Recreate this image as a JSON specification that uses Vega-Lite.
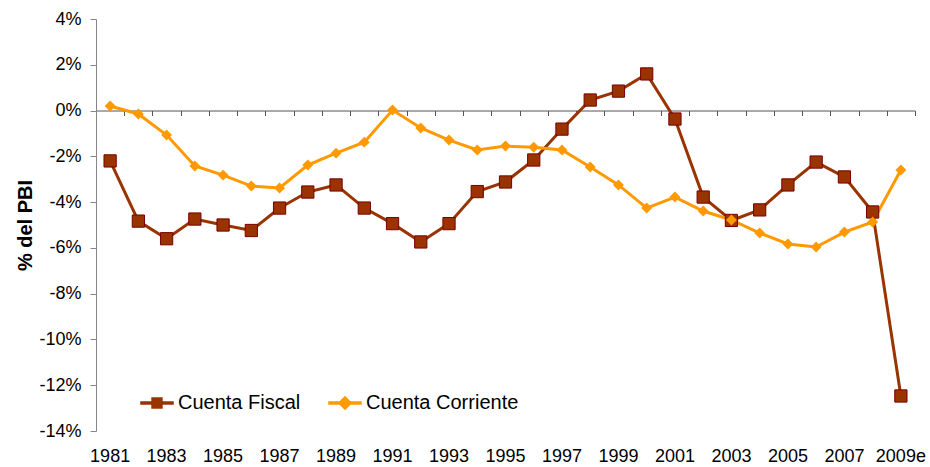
{
  "$schema": "https://vega.github.io/schema/vega-lite/v6.json",
  "width": 819,
  "height": 412,
  "autosize": "none",
  "padding": {"left": 96, "top": 19, "right": 15, "bottom": 36},
  "background": "white",
  "config": {
    "view": {"stroke": null},
    "font": "Liberation Sans",
    "axis": {"labelFont": "Liberation Sans", "titleFont": "Liberation Sans", "labelColor": "black", "titleColor": "black"}
  },
  "data": {
    "values": [
      {"year": "1981", "series": "Cuenta Fiscal", "value": -2.2},
      {"year": "1982", "series": "Cuenta Fiscal", "value": -4.83},
      {"year": "1983", "series": "Cuenta Fiscal", "value": -5.6},
      {"year": "1984", "series": "Cuenta Fiscal", "value": -4.74},
      {"year": "1985", "series": "Cuenta Fiscal", "value": -5.0},
      {"year": "1986", "series": "Cuenta Fiscal", "value": -5.24},
      {"year": "1987", "series": "Cuenta Fiscal", "value": -4.26},
      {"year": "1988", "series": "Cuenta Fiscal", "value": -3.56},
      {"year": "1989", "series": "Cuenta Fiscal", "value": -3.25},
      {"year": "1990", "series": "Cuenta Fiscal", "value": -4.26},
      {"year": "1991", "series": "Cuenta Fiscal", "value": -4.94},
      {"year": "1992", "series": "Cuenta Fiscal", "value": -5.74},
      {"year": "1993", "series": "Cuenta Fiscal", "value": -4.94},
      {"year": "1994", "series": "Cuenta Fiscal", "value": -3.54},
      {"year": "1995", "series": "Cuenta Fiscal", "value": -3.12},
      {"year": "1996", "series": "Cuenta Fiscal", "value": -2.16},
      {"year": "1997", "series": "Cuenta Fiscal", "value": -0.81},
      {"year": "1998", "series": "Cuenta Fiscal", "value": 0.46},
      {"year": "1999", "series": "Cuenta Fiscal", "value": 0.85},
      {"year": "2000", "series": "Cuenta Fiscal", "value": 1.6},
      {"year": "2001", "series": "Cuenta Fiscal", "value": -0.37},
      {"year": "2002", "series": "Cuenta Fiscal", "value": -3.78},
      {"year": "2003", "series": "Cuenta Fiscal", "value": -4.8},
      {"year": "2004", "series": "Cuenta Fiscal", "value": -4.34},
      {"year": "2005", "series": "Cuenta Fiscal", "value": -3.25},
      {"year": "2006", "series": "Cuenta Fiscal", "value": -2.25},
      {"year": "2007", "series": "Cuenta Fiscal", "value": -2.9},
      {"year": "2008", "series": "Cuenta Fiscal", "value": -4.43},
      {"year": "2009e", "series": "Cuenta Fiscal", "value": -12.47},
      {"year": "1981", "series": "Cuenta Corriente", "value": 0.2},
      {"year": "1982", "series": "Cuenta Corriente", "value": -0.15},
      {"year": "1983", "series": "Cuenta Corriente", "value": -1.07},
      {"year": "1984", "series": "Cuenta Corriente", "value": -2.42},
      {"year": "1985", "series": "Cuenta Corriente", "value": -2.82},
      {"year": "1986", "series": "Cuenta Corriente", "value": -3.3},
      {"year": "1987", "series": "Cuenta Corriente", "value": -3.38},
      {"year": "1988", "series": "Cuenta Corriente", "value": -2.38},
      {"year": "1989", "series": "Cuenta Corriente", "value": -1.86},
      {"year": "1990", "series": "Cuenta Corriente", "value": -1.38},
      {"year": "1991", "series": "Cuenta Corriente", "value": 0.02},
      {"year": "1992", "series": "Cuenta Corriente", "value": -0.76},
      {"year": "1993", "series": "Cuenta Corriente", "value": -1.29},
      {"year": "1994", "series": "Cuenta Corriente", "value": -1.72},
      {"year": "1995", "series": "Cuenta Corriente", "value": -1.55},
      {"year": "1996", "series": "Cuenta Corriente", "value": -1.6},
      {"year": "1997", "series": "Cuenta Corriente", "value": -1.72},
      {"year": "1998", "series": "Cuenta Corriente", "value": -2.47},
      {"year": "1999", "series": "Cuenta Corriente", "value": -3.25},
      {"year": "2000", "series": "Cuenta Corriente", "value": -4.26},
      {"year": "2001", "series": "Cuenta Corriente", "value": -3.78},
      {"year": "2002", "series": "Cuenta Corriente", "value": -4.39},
      {"year": "2003", "series": "Cuenta Corriente", "value": -4.78},
      {"year": "2004", "series": "Cuenta Corriente", "value": -5.35},
      {"year": "2005", "series": "Cuenta Corriente", "value": -5.83},
      {"year": "2006", "series": "Cuenta Corriente", "value": -5.96},
      {"year": "2007", "series": "Cuenta Corriente", "value": -5.31},
      {"year": "2008", "series": "Cuenta Corriente", "value": -4.87},
      {"year": "2009e", "series": "Cuenta Corriente", "value": -2.6}
    ]
  },
  "resolve": {"axis": {"x": "independent"}},
  "layer": [
    {
      "mark": {"type": "line", "strokeWidth": 3},
      "encoding": {
        "x": {
          "field": "year", "type": "ordinal", "sort": null,
          "scale": {"type": "band", "paddingInner": 0, "paddingOuter": 0},
          "axis": {
            "orient": "bottom", "title": null, "domain": false, "ticks": false,
            "labelAngle": 0, "labelFontSize": 18, "labelPadding": 16,
            "values": ["1981","1983","1985","1987","1989","1991","1993","1995","1997","1999","2001","2003","2005","2007","2009e"]
          }
        },
        "y": {
          "field": "value", "type": "quantitative",
          "scale": {"domain": [-14, 4], "nice": false, "zero": false},
          "axis": {
            "values": [-14,-12,-10,-8,-6,-4,-2,0,2,4],
            "labelExpr": "datum.value + '%'",
            "labelFontSize": 18, "labelPadding": 9,
            "grid": false, "domainColor": "#868686", "tickColor": "#868686",
            "tickSize": 6, "domainWidth": 1,
            "title": "% del PBI", "titleFontSize": 20, "titleFontWeight": "bold", "titlePadding": 3
          }
        },
        "color": {
          "field": "series", "type": "nominal",
          "scale": {"domain": ["Cuenta Fiscal", "Cuenta Corriente"], "range": ["#993300", "#FF9900"]},
          "legend": {
            "title": null, "orient": "none", "legendX": 44, "legendY": 367,
            "direction": "horizontal", "labelFontSize": 20, "labelFont": "Liberation Sans",
            "labelColor": "black", "symbolSize": 1089, "columnPadding": 26, "labelOffset": 4,
            "encode": {
              "symbols": {
                "update": {
                  "shape": {"signal": "datum.value === 'Cuenta Fiscal' ? 'M-1,-0.09H1V0.09H-1Z M-0.33,-0.33H0.33V0.33H-0.33Z' : 'M-1,-0.09H1V0.09H-1Z M0,-0.42L0.42,0L0,0.42L-0.42,0Z'"},
                  "fill": {"signal": "datum.value === 'Cuenta Fiscal' ? '#993300' : '#FF9900'"},
                  "stroke": {"signal": "datum.value === 'Cuenta Fiscal' ? '#993300' : '#FF9900'"},
                  "strokeWidth": {"value": 0.5},
                  "opacity": {"value": 1},
                  "fillOpacity": {"value": 1},
                  "size": {"value": 1089}
                }
              }
            }
          }
        }
      }
    },
    {
      "transform": [{"filter": "datum.series === 'Cuenta Fiscal'"}],
      "mark": {"type": "point", "shape": "square", "filled": true, "opacity": 1, "size": 150, "color": "#993300", "stroke": "#7a0000", "strokeWidth": 1},
      "encoding": {
        "x": {
          "field": "year", "type": "ordinal", "sort": null,
          "axis": {
            "orient": "bottom", "title": null, "labels": false,
            "offset": -320.5, "domain": true, "domainColor": "#555555", "domainWidth": 1,
            "ticks": true, "tickBand": "extent", "tickSize": 5, "tickColor": "#555555"
          }
        },
        "y": {"field": "value", "type": "quantitative"}
      }
    },
    {
      "transform": [{"filter": "datum.series === 'Cuenta Corriente'"}],
      "mark": {"type": "point", "shape": "diamond", "filled": true, "opacity": 1, "size": 120, "color": "#FF9900"},
      "encoding": {
        "x": {"field": "year", "type": "ordinal", "sort": null, "axis": null},
        "y": {"field": "value", "type": "quantitative"}
      }
    }
  ]
}
